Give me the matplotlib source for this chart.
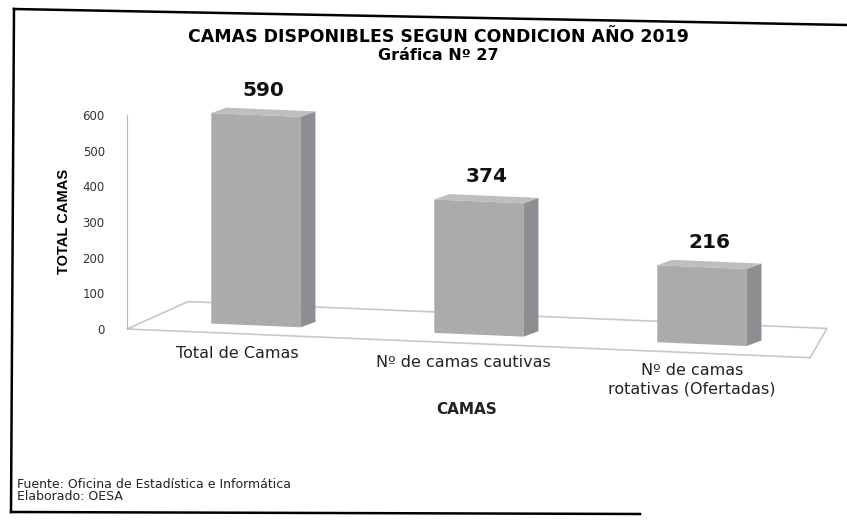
import numpy as np
import matplotlib.pyplot as plt
from matplotlib.patches import Polygon
from matplotlib.lines import Line2D
from matplotlib.transforms import Affine2D

# Datos: camas disponibles según condición, año 2019
categorias = ["Total de Camas", "Nº de camas cautivas", "Nº de camas\nrotativas (Ofertadas)"]
camas = [590, 374, 216]
yticks = [0, 100, 200, 300, 400, 500, 600]

W, H = 847, 520
fig = plt.figure(figsize=(W / 100, H / 100), dpi=100)
ax = fig.add_axes([127 / W, 191 / H, 700 / W, 214 / H])
ax.set_xlim(-0.578, 2.561)
ax.set_ylim(0, 600)

# Inclinación del escaneo (el gráfico original es 3D con perspectiva)
ox, oy = 127, 191
skew = Affine2D().translate(-ox, -oy).skew(0, np.arctan(-0.042)).translate(ox, oy)
tr = ax.transData + skew
tr_bar = ax.transData + Affine2D().translate(0, 9) + skew

front, side, top = "#ababae", "#8e8e92", "#bebec1"
edge_floor = "#c6c6d2"

x = np.arange(len(camas))
w = 0.40
dxu, dyu = 0.067, 17  # profundidad de las barras

# piso
xmin, xmax = ax.get_xlim()
floor = Polygon([(xmin, 0), (-0.304, 84), (xmax, 84), (2.485, 0)], closed=True,
                fill=False, edgecolor=edge_floor, lw=1.2, transform=tr,
                clip_on=False, zorder=1)
ax.add_patch(floor)

ax.bar(x, camas, width=w, color=front, transform=tr_bar, clip_on=False, zorder=3)
for xi, v in zip(x, camas):
    xr = xi + w / 2
    xl = xi - w / 2
    ax.add_patch(Polygon([(xr, 0), (xr + dxu, dyu), (xr + dxu, v + dyu), (xr, v)],
                         closed=True, facecolor=side, edgecolor="none",
                         transform=tr_bar, clip_on=False, zorder=3))
    ax.add_patch(Polygon([(xl, v), (xr, v), (xr + dxu, v + dyu), (xl + dxu, v + dyu)],
                         closed=True, facecolor=top, edgecolor="none",
                         transform=tr_bar, clip_on=False, zorder=3))
    ax.text(xi + dxu / 2, v, str(v), transform=tr_bar + Affine2D().translate(0, 25),
            ha="center", va="center", fontsize=14.5, fontweight="bold", color="#111111")

# etiquetas de categorías (escalonadas como en el original)
lab_off = [(-19, -12), (-16, -11), (-10, -10)]
for xi, lab, (ddx, ddy) in zip(x, categorias, lab_off):
    ax.text(xi, 0, lab, transform=tr + Affine2D().translate(ddx, ddy),
            ha="center", va="top", fontsize=11.5, color="#222222",
            linespacing=1.3, multialignment="center")

for s in ["top", "right", "bottom"]:
    ax.spines[s].set_visible(False)
ax.spines["left"].set_color("#b4b4c4")
ax.set_xticks([])
ax.set_yticks(yticks)
ax.tick_params(axis="y", length=0, pad=16, labelsize=8.5, labelcolor="#333333")
ax.patch.set_visible(False)

fig.text(64 / W, 1 - 221 / H, "TOTAL CAMAS", rotation=90, ha="center", va="center",
         fontsize=10.5, fontweight="bold", family=["Liberation Sans Narrow", "Liberation Sans"])
fig.text(438 / W, 1 - 37 / H, "CAMAS DISPONIBLES SEGUN CONDICION AÑO 2019",
         ha="center", va="center", fontsize=12.5, fontweight="bold")
fig.text(438 / W, 1 - 55 / H, "Gráfica Nº 27", ha="center", va="center",
         fontsize=11.5, fontweight="bold")
fig.text(467 / W, 1 - 409 / H, "CAMAS", ha="center", va="center",
         fontsize=11, fontweight="bold", color="#222222")
fig.text(17 / W, 1 - 484 / H, "Fuente: Oficina de Estadística e Informática",
         ha="left", va="center", fontsize=9, color="#222222")
fig.text(17 / W, 1 - 497 / H, "Elaborado: OESA",
         ha="left", va="center", fontsize=9, color="#222222")

# marco del escaneo
for xs, ys in [([14, 847], [9, 25]), ([14, 11], [9, 512]), ([11, 640], [512, 514])]:
    fig.add_artist(Line2D([v / W for v in xs], [1 - v / H for v in ys],
                          color="black", lw=1.8, transform=fig.transFigure))

fig.savefig("out.png", dpi=100)
